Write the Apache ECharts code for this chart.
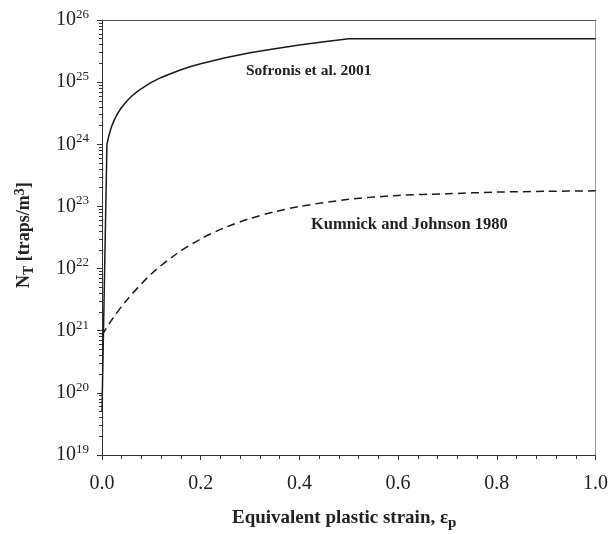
<!DOCTYPE html>
<html>
<head>
<meta charset="utf-8">
<script src="https://cdn.jsdelivr.net/npm/echarts@6/dist/echarts.min.js"></script>
<style>html,body{margin:0;padding:0;background:#fff;}#c{width:611px;height:534px;}</style>
</head>
<body>
<div id="c"></div>
<script>
const sofronisX = [0, 0.01, 0.0125, 0.015, 0.0175, 0.02, 0.025, 0.03, 0.035, 0.04, 0.05, 0.06, 0.07, 0.08, 0.09, 0.1, 0.12, 0.14, 0.16, 0.18, 0.2, 0.25, 0.3, 0.35, 0.4, 0.45, 0.5, 1.0];
const sofronisY = [5e19, 9.9e23, 1.24e24, 1.48e24, 1.73e24, 1.98e24, 2.47e24, 2.96e24, 3.46e24, 3.95e24, 4.94e24, 5.93e24, 6.92e24, 7.9e24, 8.9e24, 9.9e24, 1.19e25, 1.38e25, 1.58e25, 1.78e25, 1.98e25, 2.47e25, 2.96e25, 3.46e25, 3.95e25, 4.45e25, 5.0e25, 5.0e25];
const kumnickX = [0, 0.02, 0.05, 0.1, 0.15, 0.2, 0.25, 0.3, 0.35, 0.4, 0.5, 0.6, 0.7, 0.8, 0.9, 1.0];
const kumnickY = [8.5e20, 1.5e21, 3.1e21, 8.2e21, 1.7e22, 3.0e22, 4.6e22, 6.4e22, 8.2e22, 1.0e23, 1.3e23, 1.5e23, 1.6e23, 1.7e23, 1.75e23, 1.78e23];
const xTicks = [0, 0.2, 0.4, 0.6, 0.8, 1.0];
const yExponents = [19, 20, 21, 22, 23, 24, 25, 26];

const minorY = [];
for (let e = 19; e < 26; e++) for (let m = 2; m <= 9; m++) minorY.push(m * Math.pow(10, e));

const FONT = '"Liberation Serif", "DejaVu Serif", serif';
const chart = echarts.init(document.getElementById('c'));
chart.setOption({
  animation: false,
  grid: { left: 102, right: 13, top: 20, bottom: 79 },
  xAxis: [{
    type: 'value', min: 0, max: 1, interval: 0.2,
    axisLine: { show: true, lineStyle: { color: '#333', width: 1 } },
    axisTick: { show: true, length: 5, lineStyle: { color: '#333' } },
    minorTick: { show: true, splitNumber: 5, length: 4, lineStyle: { color: '#333' } },
    splitLine: { show: false },
    axisLabel: { margin: 19, fontFamily: FONT, fontSize: 20, color: '#222', formatter: v => v.toFixed(1) }
  }, {
    type: 'value', min: 0, max: 1, position: 'top',
    axisLine: { show: true, onZero: false, lineStyle: { color: '#555', width: 1 } },
    axisTick: { show: false }, axisLabel: { show: false }, splitLine: { show: false }
  }],
  yAxis: [{
    type: 'log', logBase: 10, min: 1e19, max: 1e26, interval: 1,
    axisLine: { show: true, lineStyle: { color: '#333', width: 1 } },
    axisTick: { show: true, length: 5, lineStyle: { color: '#333' } },
    splitLine: { show: false },
    axisLabel: {
      margin: 13, fontFamily: FONT, color: '#222',
      formatter: v => '{b|10}{s|' + Math.round(Math.log10(v)) + '}',
      rich: {
        b: { fontFamily: FONT, fontSize: 20, color: '#222' },
        s: { fontFamily: FONT, fontSize: 13, color: '#222', verticalAlign: 'top', padding: [0, 0, 11, 0] }
      }
    }
  }, {
    type: 'log', logBase: 10, min: 1e19, max: 1e26, position: 'left',
    axisLine: { show: false },
    axisTick: { show: true, length: 3, customValues: minorY, lineStyle: { color: '#333' } },
    axisLabel: { show: false }, splitLine: { show: false }
  }, {
    type: 'log', logBase: 10, min: 1e19, max: 1e26, position: 'right',
    axisLine: { show: true, lineStyle: { color: '#999', width: 1 } },
    axisTick: { show: false }, axisLabel: { show: false }, splitLine: { show: false }
  }],
  series: [{
    type: 'line', showSymbol: false, symbol: 'none',
    data: sofronisX.map((x, i) => [x, sofronisY[i]]),
    lineStyle: { color: '#1a1a1a', width: 1.5, type: 'solid' }
  }, {
    type: 'line', showSymbol: false, symbol: 'none', smooth: 0.3,
    data: kumnickX.map((x, i) => [x, kumnickY[i]]),
    lineStyle: { color: '#1a1a1a', width: 1.5, type: [8, 5] }
  }],
  graphic: [{
    type: 'text', left: 246, top: 63,
    style: { text: 'Sofronis et al. 2001', fontFamily: FONT, fontSize: 15.5, fontWeight: 'bold', fill: '#222' }
  }, {
    type: 'text', left: 311, top: 216,
    style: { text: 'Kumnick and Johnson 1980', fontFamily: FONT, fontSize: 16.5, fontWeight: 'bold', fill: '#222' }
  }, {
    type: 'text', x: 13, y: 288, rotation: Math.PI / 2,
    style: {
      text: '{b|N}{sub|T}{b| [traps/m}{sup|3}{b|]}',
      rich: {
        b: { fontFamily: FONT, fontSize: 18, fontWeight: 'bold', fill: '#222' },
        sub: { fontFamily: FONT, fontSize: 14, fontWeight: 'bold', fill: '#222', padding: [9, 0, 0, 0] },
        sup: { fontFamily: FONT, fontSize: 14, fontWeight: 'bold', fill: '#222', padding: [0, 0, 9, 0] }
      }
    }
  }, {
    type: 'text', left: 232, top: 509,
    style: {
      text: '{b|Equivalent plastic strain, ε}{sub|p}',
      rich: {
        b: { fontFamily: FONT, fontSize: 19, fontWeight: 'bold', fill: '#222' },
        sub: { fontFamily: FONT, fontSize: 15, fontWeight: 'bold', fill: '#222', padding: [9, 0, 0, 0] }
      }
    }
  }]
});
</script>
</body>
</html>
